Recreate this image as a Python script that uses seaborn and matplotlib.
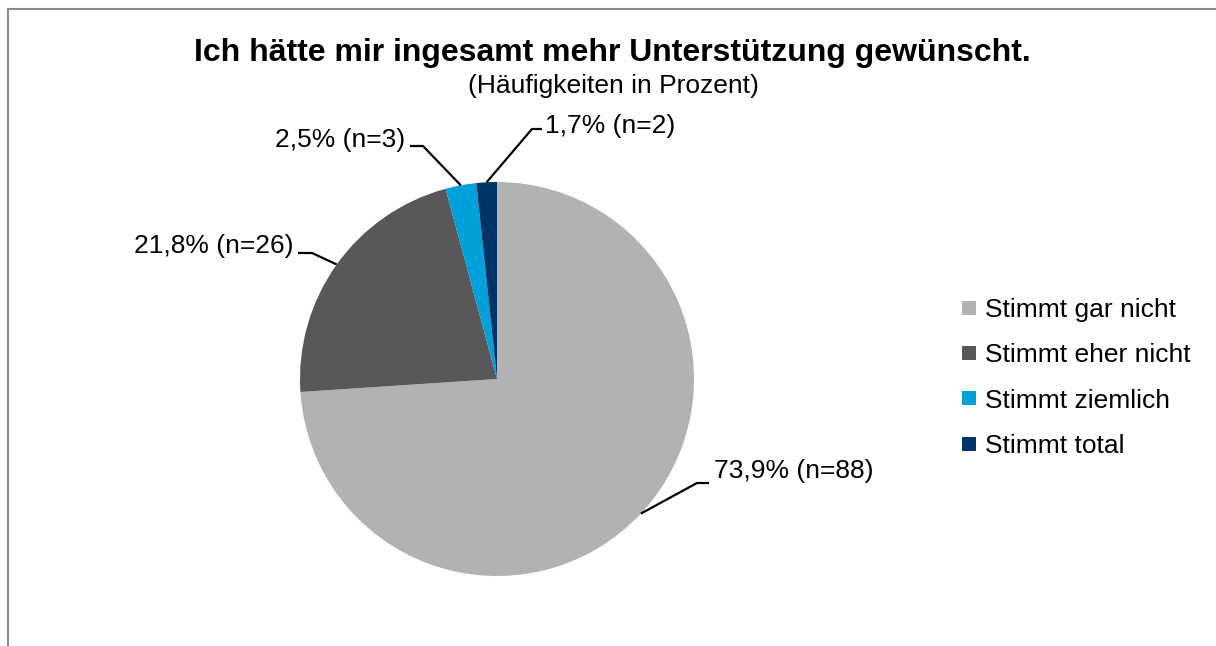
import matplotlib
matplotlib.use("Agg")
import matplotlib.pyplot as plt
import matplotlib.patches as mpatches
from matplotlib.lines import Line2D
import numpy as np
import seaborn as sns

# data
categories = ['Stimmt gar nicht', 'Stimmt eher nicht', 'Stimmt ziemlich', 'Stimmt total']
counts = [88, 26, 3, 2]
percent_labels = ['73,9%', '21,8%', '2,5%', '1,7%']

colors = ['#B1B2B4', '#58585A', '#00A0DA', '#003366']

sns.set_theme(style="white")
plt.rcParams['font.family'] = ['Liberation Sans', 'DejaVu Sans']
plt.rcParams['text.color'] = 'black'

W, H = 1216, 646
fig = plt.figure(figsize=(W / 100, H / 100), dpi=100)
ax = fig.add_axes([0, 0, 1, 1])

# pie in pixel-like coordinates (y up)
cx, cy, r = 497, H - 379, 197
wedges, _ = ax.pie(counts, colors=colors, startangle=90, counterclock=False,
                   center=(cx, cy), radius=r, frame=True,
                   wedgeprops=dict(linewidth=0))
ax.set_xlim(0, W)
ax.set_ylim(0, H)
ax.axis('off')

# leader lines: elbow and end points (pixel y from top), text anchor
leaders = [
    dict(elbow=(697, 483), end=(709, 483), text=(714, 471), ha='left'),
    dict(elbow=(312, 253), end=(298, 253), text=(293, 246), ha='right'),
    dict(elbow=(423, 146), end=(410, 146), text=(405, 140), ha='right'),
    dict(elbow=(532, 129), end=(542, 129), text=(545, 126), ha='left'),
]
for w, n, p, ld in zip(wedges, counts, percent_labels, leaders):
    mid = np.deg2rad((w.theta1 + w.theta2) / 2)
    ex, ey = cx + r * np.cos(mid), cy + r * np.sin(mid)
    xs = [ex, ld['elbow'][0], ld['end'][0]]
    ys = [ey, H - ld['elbow'][1], H - ld['end'][1]]
    ax.plot(xs, ys, color='black', lw=1.6, solid_capstyle='butt')
    ax.text(ld['text'][0], H - ld['text'][1], f"{p} (n={n})", ha=ld['ha'],
            va='center', fontsize=19, color='black')

# title
fig.text(612 / W, 1 - 53 / H, 'Ich hätte mir ingesamt mehr Unterstützung gewünscht.',
         ha='center', va='center', fontsize=23, fontweight='bold')
fig.text(613 / W, 1 - 86 / H, '(Häufigkeiten in Prozent)',
         ha='center', va='center', fontsize=19)

# legend
handles = [Line2D([], [], marker='s', linestyle='', markersize=10.5,
                  markerfacecolor=c, markeredgewidth=0) for c in colors]
fig.legend(handles, categories, loc='center left',
           bbox_to_anchor=(961 / W, 1 - 378 / H), frameon=False,
           fontsize=19, handlelength=0.6, handletextpad=0.3,
           labelspacing=0.81, borderpad=0, borderaxespad=0)

# outer frame
fig.patches.append(mpatches.Rectangle((8 / W, -0.1), 1.2, 1.1 - 9 / H,
                                      transform=fig.transFigure, fill=False,
                                      edgecolor='#8C8C8C', linewidth=1.5))

fig.savefig('out.png', dpi=100)
